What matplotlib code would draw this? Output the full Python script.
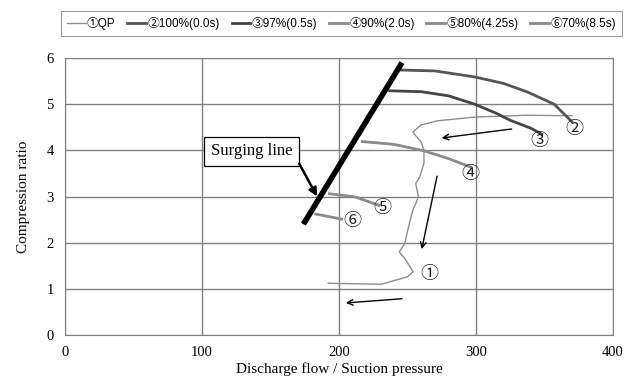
import matplotlib
matplotlib.use('Agg')
import matplotlib.pyplot as plt
from matplotlib.lines import Line2D

plt.rcParams['font.family'] = ['Liberation Serif', 'DejaVu Serif']
SYM = ['Liberation Sans', 'Noto Sans CJK JP', 'DejaVu Sans']

# ---- data ----
qp_x = [192, 231, 250, 254, 248, 244, 248, 250, 252, 254, 258, 256, 259, 262, 262,
        260, 255, 254, 260, 272, 299, 337, 370]
qp_y = [1.12, 1.10, 1.26, 1.37, 1.66, 1.80, 1.98, 2.25, 2.49, 2.71, 2.99, 3.28, 3.43,
        3.72, 4.00, 4.18, 4.35, 4.40, 4.55, 4.64, 4.72, 4.76, 4.75]

c100_x = [245, 270, 299, 320, 337, 357, 370]
c100_y = [5.74, 5.72, 5.59, 5.45, 5.27, 5.00, 4.62]

c97_x = [237, 260, 280, 299, 315, 325, 340, 348]
c97_y = [5.29, 5.27, 5.18, 5.00, 4.80, 4.65, 4.48, 4.35]

c90_x = [217, 240, 262, 280, 296]
c90_y = [4.19, 4.13, 3.99, 3.82, 3.64]

c80_x = [193, 212, 229]
c80_y = [3.06, 2.99, 2.81]

c70_x = [183, 202]
c70_y = [2.62, 2.51]

surge_x = [174, 246]
surge_y = [2.40, 5.90]

legend_labels = ['①QP', '②100%(0.0s)', '③97%(0.5s)', '④90%(2.0s)', '⑤80%(4.25s)', '⑥70%(8.5s)']

# (label, x, y)
marks = [('①', 266, 1.3), ('②', 372, 4.45), ('③', 346, 4.2), ('④', 296, 3.47),
         ('⑤', 232, 2.75), ('⑥', 210, 2.45)]

# arrows: (x_from, y_from, x_to, y_to)
arrows = [(328, 4.47, 273, 4.26), (272, 3.50, 260, 1.80), (248, 0.79, 203, 0.69)]

fig = plt.figure(figsize=(6.24, 3.8), dpi=100)
ax = fig.add_axes([65 / 624, 45 / 380, 548 / 624, 277 / 380])

series = [
    (qp_x, qp_y, '#8c8c8c', 1.0),
    (c100_x, c100_y, '#555555', 2.0),
    (c97_x, c97_y, '#444444', 2.0),
    (c90_x, c90_y, '#8a8a8a', 2.0),
    (c80_x, c80_y, '#8a8a8a', 2.0),
    (c70_x, c70_y, '#8a8a8a', 2.0),
]
for x, y, c, lw in series:
    ax.plot(x, y, color=c, lw=lw, zorder=3)

ax.plot(surge_x, surge_y, color='black', lw=4, solid_capstyle='butt', zorder=4)

for x0, y0, x1, y1 in arrows:
    ax.annotate('', xy=(x1, y1), xytext=(x0, y0),
                arrowprops=dict(arrowstyle='->', color='black', lw=1.0), zorder=5)

ax.text(136, 3.98, 'Surging line', ha='center', va='center', fontsize=12,
        bbox=dict(boxstyle='square,pad=0.4', fc='white', ec='black', lw=0.9), zorder=6)
ax.annotate('', xy=(184, 3.0), xytext=(171, 3.71),
            arrowprops=dict(arrowstyle='-|>', color='black', lw=1.8, shrinkA=0, shrinkB=0,
                            mutation_scale=12), zorder=6)

for t, x, y in marks:
    ax.text(x, y, t, fontsize=13, family=SYM, ha='center', va='center', color='#222222',
            zorder=6)

ax.set_xlim(0, 400)
ax.set_ylim(0, 6)
ax.set_xticks([0, 100, 200, 300, 400])
ax.set_yticks([0, 1, 2, 3, 4, 5, 6])
ax.tick_params(length=0, labelsize=10.5, pad=8)
ax.grid(True, color='#808080', lw=1.0)
ax.set_axisbelow(True)
for s in ax.spines.values():
    s.set_color('#808080')
ax.set_xlabel('Discharge flow / Suction pressure', fontsize=11, labelpad=2)
ax.set_ylabel('Compression ratio', fontsize=11, labelpad=12)

handles = [Line2D([], [], color=c, lw=lw) for _, _, c, lw in series]
leg = fig.legend(handles, legend_labels, loc='upper left', bbox_to_anchor=(55 / 624, 1 - 5 / 380),
                 ncol=6, frameon=True, fancybox=False, handlelength=1.6, handletextpad=0.1,
                 columnspacing=1.0, prop={'family': SYM, 'size': 8.5}, borderpad=0.5)
leg.get_frame().set_edgecolor('#808080')
leg.get_frame().set_linewidth(0.8)

fig.savefig('out.png', dpi=100)
